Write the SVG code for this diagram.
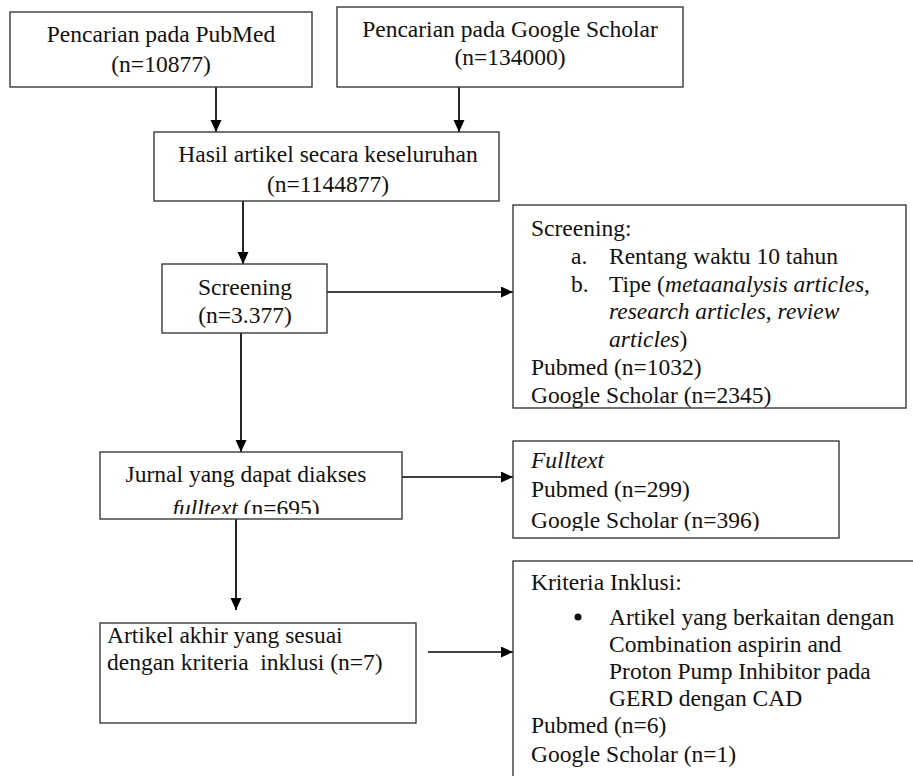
<svg xmlns="http://www.w3.org/2000/svg" width="913" height="776" viewBox="0 0 913 776">
<style>
.box{fill:#fff;stroke:#3a3a3a;stroke-width:1.4}
.t{font-family:"Liberation Serif","Times New Roman",serif;font-size:23.5px;fill:#111}
.c{text-anchor:middle}
.i{font-style:italic}
.ln{stroke:#000;stroke-width:1.7;fill:none}
</style>
<defs>
<marker id="ah" markerUnits="userSpaceOnUse" markerWidth="13" markerHeight="12" refX="12" refY="5.5" orient="auto">
<path d="M0,0 L12,5.5 L0,11 z" fill="#000"/>
</marker>
<clipPath id="cJ"><rect x="100" y="452" width="302" height="62"/></clipPath>
<clipPath id="cF"><rect x="513" y="441" width="326" height="90"/></clipPath>
</defs>
<rect width="913" height="776" fill="#fff"/>

<g id="connectors">
<line class="ln" x1="216" y1="87" x2="216" y2="132" marker-end="url(#ah)"/>
<line class="ln" x1="459" y1="87" x2="459" y2="132" marker-end="url(#ah)"/>
<line class="ln" x1="243" y1="201" x2="243" y2="264" marker-end="url(#ah)"/>
<line class="ln" x1="327" y1="292" x2="513" y2="292" marker-end="url(#ah)"/>
<line class="ln" x1="241" y1="333" x2="241" y2="452" marker-end="url(#ah)"/>
<line class="ln" x1="402" y1="477" x2="513" y2="477" marker-end="url(#ah)"/>
<line class="ln" x1="236" y1="519" x2="236" y2="610" marker-end="url(#ah)"/>
<line class="ln" x1="428" y1="652" x2="513" y2="652" marker-end="url(#ah)"/>
</g>

<g id="pubmed">
<rect class="box" x="10" y="12" width="302" height="75"/>
<text class="t c" x="161" y="42">Pencarian pada PubMed</text>
<text class="t c" x="161" y="72">(n=10877)</text>
</g>

<g id="scholar">
<rect class="box" x="337" y="7" width="346" height="80"/>
<text class="t c" x="510" y="37">Pencarian pada Google Scholar</text>
<text class="t c" x="510" y="65">(n=134000)</text>
</g>

<g id="hasil">
<rect class="box" x="154" y="132" width="345" height="69"/>
<text class="t c" x="328" y="162">Hasil artikel secara keseluruhan</text>
<text class="t c" x="328" y="192">(n=1144877)</text>
</g>

<g id="screening">
<rect class="box" x="162" y="264" width="165" height="69"/>
<text class="t c" x="245" y="295">Screening</text>
<text class="t c" x="245" y="323">(n=3.377)</text>
</g>

<g id="screening-detail">
<rect class="box" x="513" y="205" width="393" height="203"/>
<text class="t" x="531" y="236">Screening:</text>
<text class="t" x="571" y="264">a.</text>
<text class="t" x="609" y="264">Rentang waktu 10 tahun</text>
<text class="t" x="571" y="292">b.</text>
<text class="t" x="609" y="292">Tipe (<tspan class="i">metaanalysis articles</tspan>,</text>
<text class="t" x="609" y="319"><tspan class="i">research articles</tspan>, <tspan class="i">review</tspan></text>
<text class="t" x="609" y="347"><tspan class="i">articles</tspan>)</text>
<text class="t" x="531" y="375">Pubmed (n=1032)</text>
<text class="t" x="531" y="403">Google Scholar (n=2345)</text>
</g>

<g id="jurnal">
<rect class="box" x="100" y="452" width="302" height="67"/>
<text class="t c" x="246" y="482">Jurnal yang dapat diakses</text>
<text class="t c" x="246" y="516" clip-path="url(#cJ)"><tspan class="i">fulltext</tspan> (n=695)</text>
</g>

<g id="fulltext">
<rect class="box" x="513" y="441" width="326" height="97"/>
<text class="t i" x="531" y="468">Fulltext</text>
<text class="t" x="531" y="497">Pubmed (n=299)</text>
<text class="t" x="531" y="528" clip-path="url(#cF)">Google Scholar (n=396)</text>
</g>

<g id="artikel">
<rect class="box" x="100" y="623" width="316" height="100"/>
<text class="t" x="107" y="643">Artikel akhir yang sesuai</text>
<text class="t" x="107" y="670" xml:space="preserve">dengan kriteria  inklusi (n=7)</text>
</g>

<g id="kriteria">
<rect class="box" x="513" y="561" width="500" height="300"/>
<text class="t" x="531" y="590">Kriteria Inklusi:</text>
<circle cx="578" cy="617" r="3.5" fill="#111"/>
<text class="t" x="609" y="625">Artikel yang berkaitan dengan</text>
<text class="t" x="609" y="652">Combination aspirin and</text>
<text class="t" x="609" y="679">Proton Pump Inhibitor pada</text>
<text class="t" x="609" y="706">GERD dengan CAD</text>
<text class="t" x="531" y="733">Pubmed (n=6)</text>
<text class="t" x="531" y="762">Google Scholar (n=1)</text>
</g>
</svg>
